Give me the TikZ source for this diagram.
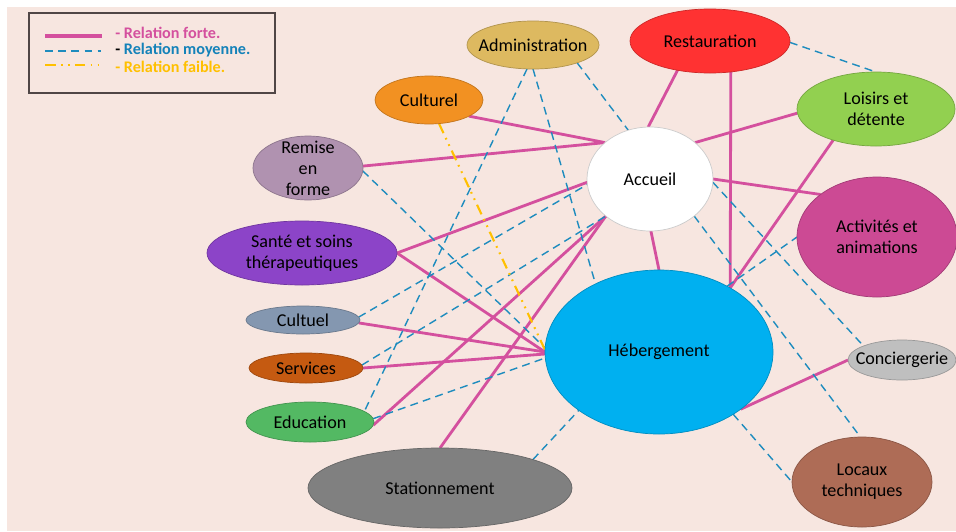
\documentclass[tikz,border=0pt]{standalone}
\usepackage{fontspec}
\setmainfont{Carlito}
\usetikzlibrary{shapes.geometric,backgrounds}
\definecolor{bg}{RGB}{247,230,224}
\definecolor{pinkl}{RGB}{212,80,158}
\definecolor{bluel}{RGB}{30,140,190}
\definecolor{yell}{RGB}{255,192,0}
\definecolor{bluet}{RGB}{20,130,185}
\definecolor{legbord}{RGB}{80,70,70}
\definecolor{cAdm}{RGB}{221,185,96}
\definecolor{cRes}{RGB}{255,50,50}
\definecolor{cCul}{RGB}{242,145,34}
\definecolor{cRem}{RGB}{176,146,176}
\definecolor{cLoi}{RGB}{146,208,80}
\definecolor{cAct}{RGB}{204,74,148}
\definecolor{cSan}{RGB}{140,68,200}
\definecolor{cCtl}{RGB}{132,151,176}
\definecolor{cSer}{RGB}{197,90,17}
\definecolor{cEdu}{RGB}{83,185,99}
\definecolor{cSta}{RGB}{128,128,128}
\definecolor{cHeb}{RGB}{0,176,240}
\definecolor{cCon}{RGB}{191,191,191}
\definecolor{cLoc}{RGB}{174,108,86}
\begin{document}
\begin{tikzpicture}[x=0.02cm,y=-0.02cm,
  el/.style n args={3}{ellipse, fill=#1, draw=#1!80!black, line width=0.4pt,
    minimum width=#2*0.02cm, minimum height=#3*0.02cm,
    inner xsep=-40pt, inner ysep=-25pt, outer sep=0pt, align=center,
    font=\fontsize{10.3}{12}\selectfont, text=black},
  strong/.style={draw=pinkl, line width=1.6pt},
  medium/.style={draw=bluel, line width=0.8pt, dash pattern=on 4.5pt off 3pt},
  weak/.style={draw=yell, line width=1.2pt, dash pattern=on 6pt off 3pt on 1pt off 3pt on 1pt off 3pt},
  legtext/.style={anchor=west, inner sep=0pt, font=\fontsize{9.2}{11}\selectfont\bfseries}]
\useasboundingbox (0,0) rectangle (956,531);

% nodes
\node[el={cAdm}{132}{48}] (adm) at (533,45) {Administration};
\node[el={cRes}{160}{64}] (res) at (710,41) {Restauration};
\node[el={cCul}{108}{48}] (cul) at (429,100) {Culturel};
\node[el={cRem}{110}{64}] (rem) at (308,168) {Remise\\en\\forme};
\node[el={white}{126}{104}, draw=black!20] (acc) at (650,179) {Accueil};
\node[el={cLoi}{158}{74}] (loi) at (876,109) {Loisirs et\\détente};
\node[el={cAct}{160}{120}] (act) at (877,237) {Activités et\\animations};
\node[el={cSan}{190}{64}] (san) at (302,253) {Santé et soins\\thérapeutiques};
\node[el={cCtl}{114}{28}] (ctl) at (303,320) {Cultuel};
\node[el={cSer}{114}{30}] (ser) at (306,368) {Services};
\node[el={cEdu}{128}{40}] (edu) at (310,422) {Education};
\node[el={cSta}{264}{80}] (sta) at (440,488) {Stationnement};
\node[el={cHeb}{228}{164}] (heb) at (659,352) {Hébergement};
\node[el={cCon}{108}{40}] (con) at (902,360) {Conciergerie};
\node[el={cLoc}{140}{90}] (loc) at (862,482) {Locaux\\techniques};

% legend
\node[draw=legbord, line width=0.8pt, minimum width=246*0.02cm, minimum height=80*0.02cm,
  anchor=north west, inner sep=0pt, outer sep=0pt] (leg) at (29,13) {};
\coordinate (l1a) at (45,36); \coordinate (l1b) at (102,36);
\coordinate (l2a) at (45,51); \coordinate (l2b) at (101,51);
\coordinate (l3a) at (45,65); \coordinate (l3b) at (101,65);
\node[legtext, text=pinkl] (t1) at (115,33) {- Relation forte.};
\node[legtext, text=bluet] (t2) at (115,50) {\textcolor{black}{-} Relation moyenne.};
\node[legtext, text=yell] (t3) at (115,67) {- Relation faible.};

\begin{scope}[on background layer]
\fill[bg] (7,7) rectangle (956,531);
\draw[strong, line width=2pt] (l1a) -- (l1b);
\draw[medium] (l2a) -- (l2b);
\draw[weak] (l3a) -- (l3b);
% strong relations
\draw[strong] (cul.338) -- (acc.141);
\draw[strong] (rem.2) -- (acc.141);
\draw[strong] (res.222) -- (acc.92);
\draw[strong] (res.304) -- (heb.42);
\draw[strong] (loi.183) -- (acc.39);
\draw[strong] (loi.216) -- (heb.42);
\draw[strong] (acc.0) -- (act.143);
\draw[strong] (acc.271) -- (heb.90);
\draw[strong] (san.0) -- (acc.183);
\draw[strong] (san.0) -- (heb.180);
\draw[strong] (ctl.357) -- (heb.180);
\draw[strong] (ser.0) -- (heb.181);
\draw[strong] (edu.357) -- (acc.220);
\draw[strong] (sta.90) -- (acc.220);
\draw[strong] (heb.325) -- (con.180);
% medium relations
\draw[medium] (adm.338) -- (acc.114);
\draw[medium] (adm.256) -- (edu.11);
\draw[medium] (adm.270) -- (heb.133);
\draw[medium] (res.359) -- (loi.90);
\draw[medium] (rem.357) -- (heb.178);
\draw[medium] (ctl.3) -- (acc.185);
\draw[medium] (ser.3) -- (acc.220);
\draw[medium] (edu.3) -- (heb.183);
\draw[medium] (sta.17) -- (heb.216);
\draw[medium] (acc.357) -- (con.160);
\draw[medium] (acc.320) -- (loc.92);
\draw[medium] (heb.44) -- (act.180);
\draw[medium] (heb.320) -- (loc.180);
% weak relation
\draw[weak] (cul.293) -- (heb.179);
\end{scope}
\end{tikzpicture}
\end{document}
